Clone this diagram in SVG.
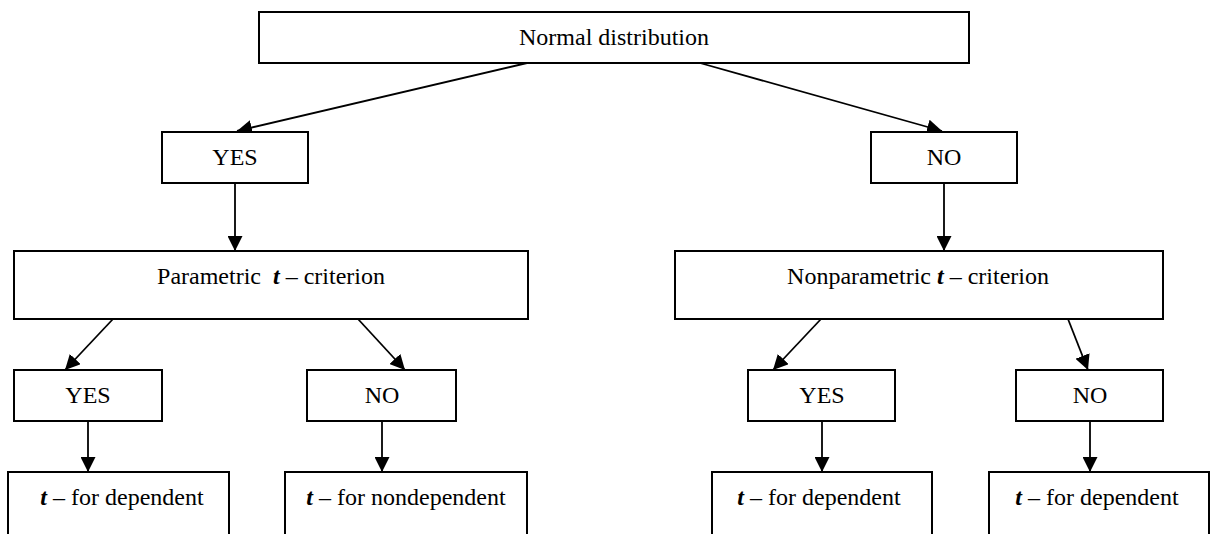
<svg xmlns="http://www.w3.org/2000/svg" width="1215" height="534" viewBox="0 0 1215 534">
<style>
.box{fill:#fff;stroke:#000;stroke-width:2}
.lbl{font-family:"Liberation Serif","Times New Roman",serif;font-size:24px;fill:#000;text-anchor:middle}
.t{font-weight:bold;font-style:italic}
.conn{stroke:#000;stroke-width:1.8;fill:none;marker-end:url(#ah)}
</style>
<defs>
<marker id="ah" markerUnits="userSpaceOnUse" markerWidth="15" markerHeight="15" refX="15" refY="7.5" orient="auto">
<path d="M0,0 L15,7.5 L0,15 z" fill="#000"/>
</marker>
</defs>
<rect width="1215" height="534" fill="#fff"/>
<g id="connectors">
<line class="conn" x1="527" y1="63" x2="237" y2="131"/>
<line class="conn" x1="700" y1="63" x2="942" y2="131"/>
<line class="conn" x1="235" y1="183" x2="235" y2="251"/>
<line class="conn" x1="944" y1="183" x2="944" y2="251"/>
<line class="conn" x1="113" y1="319" x2="65" y2="370"/>
<line class="conn" x1="358" y1="319" x2="405" y2="370"/>
<line class="conn" x1="821" y1="319" x2="773" y2="370"/>
<line class="conn" x1="1068" y1="319" x2="1088" y2="370"/>
<line class="conn" x1="88" y1="421" x2="88" y2="472"/>
<line class="conn" x1="382" y1="421" x2="382" y2="472"/>
<line class="conn" x1="822" y1="421" x2="822" y2="472"/>
<line class="conn" x1="1090" y1="421" x2="1090" y2="472"/>
</g>
<g id="normal">
<rect class="box" x="259" y="12" width="710" height="51"/>
<text class="lbl" x="614" y="45">Normal distribution</text>
</g>
<g id="yes1">
<rect class="box" x="162" y="132" width="146" height="51"/>
<text class="lbl" x="235" y="165">YES</text>
</g>
<g id="no1">
<rect class="box" x="871" y="132" width="146" height="51"/>
<text class="lbl" x="944" y="165">NO</text>
</g>
<g id="parametric">
<rect class="box" x="14" y="251" width="514" height="68"/>
<text class="lbl" x="271" y="284" xml:space="preserve">Parametric  <tspan class="t">t</tspan> – criterion</text>
</g>
<g id="nonparametric">
<rect class="box" x="675" y="251" width="488" height="68"/>
<text class="lbl" x="918" y="284">Nonparametric <tspan class="t">t</tspan> – criterion</text>
</g>
<g id="yes2">
<rect class="box" x="14" y="370" width="148" height="51"/>
<text class="lbl" x="88" y="403">YES</text>
</g>
<g id="no2">
<rect class="box" x="307" y="370" width="149" height="51"/>
<text class="lbl" x="382" y="403">NO</text>
</g>
<g id="yes3">
<rect class="box" x="748" y="370" width="147" height="51"/>
<text class="lbl" x="822" y="403">YES</text>
</g>
<g id="no3">
<rect class="box" x="1016" y="370" width="147" height="51"/>
<text class="lbl" x="1090" y="403">NO</text>
</g>
<g id="dep1">
<rect class="box" x="8" y="472" width="221" height="80"/>
<text class="lbl" x="122" y="505"><tspan class="t">t</tspan> – for dependent</text>
</g>
<g id="nondep">
<rect class="box" x="285" y="472" width="242" height="80"/>
<text class="lbl" x="406" y="505"><tspan class="t">t</tspan> – for nondependent</text>
</g>
<g id="dep2">
<rect class="box" x="712" y="472" width="220" height="80"/>
<text class="lbl" x="819" y="505"><tspan class="t">t</tspan> – for dependent</text>
</g>
<g id="dep3">
<rect class="box" x="989" y="472" width="220" height="80"/>
<text class="lbl" x="1097" y="505"><tspan class="t">t</tspan> – for dependent</text>
</g>
</svg>
